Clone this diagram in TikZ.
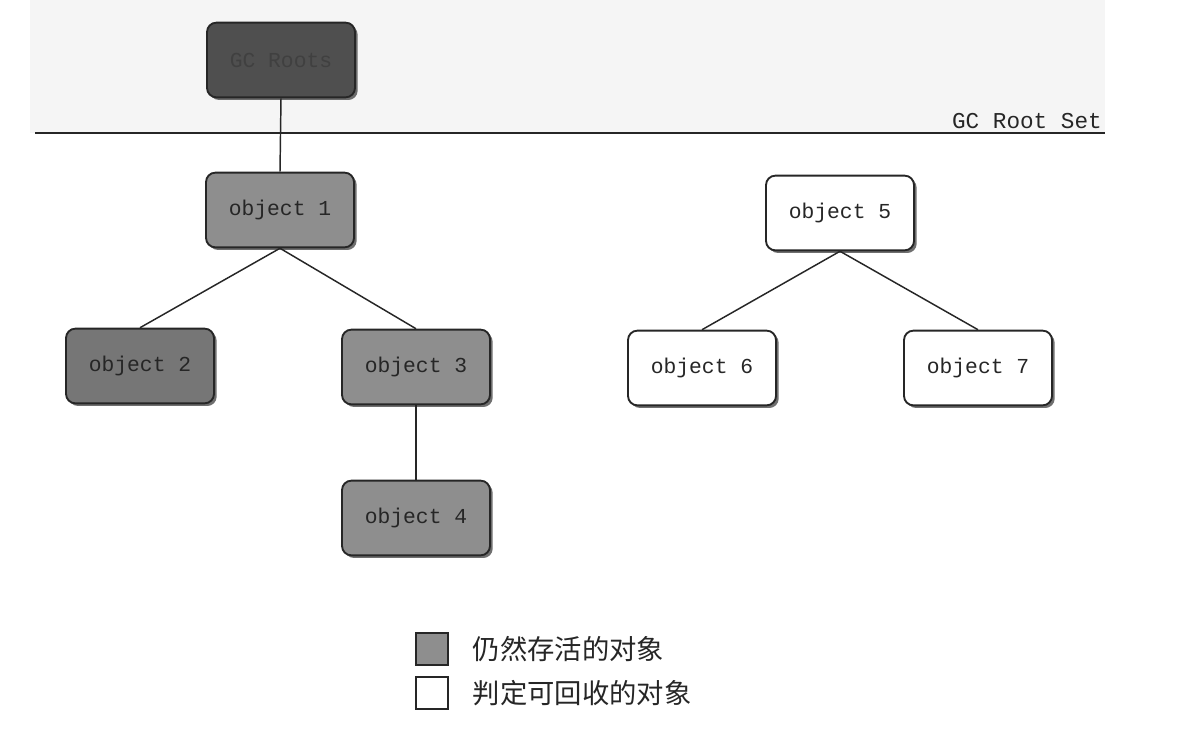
\documentclass[tikz,border=0pt]{standalone}
\usepackage{fontspec}
\setmonofont{Liberation Mono}
\newfontfamily\cjk{Noto Sans CJK SC}
\usetikzlibrary{shadows}
\definecolor{rootfill}{HTML}{4F4F4F}
\definecolor{livefill}{HTML}{8E8E8E}
\definecolor{livefilldark}{HTML}{767676}
\definecolor{topbg}{HTML}{F5F5F5}
\tikzset{
  objbox/.style={draw=black!85, line width=1.4pt, rounded corners=7pt,
    minimum width=111pt, minimum height=56pt, inner sep=0pt,
    font=\ttfamily\fontsize{16}{18}\selectfont, text=black!85,
    drop shadow={shadow xshift=2pt, shadow yshift=-2pt, opacity=0.7, fill=black!80}},
  live/.style={objbox, fill=livefill},
  dead/.style={objbox, fill=white},
  rootbox/.style={objbox, fill=rootfill, text=black!75},
  link/.style={draw=black!85, line width=1.1pt},
  legendbox/.style={draw=black!85, line width=1pt, minimum size=24pt, inner sep=0pt},
  legendtext/.style={anchor=west, font=\cjk\fontsize{20.5}{24}\selectfont, text=black!85}
}
\begin{document}
\begin{tikzpicture}[x=0.75pt,y=-0.75pt]
\useasboundingbox (0,0) rectangle (1200,737);
\fill[white] (0,0) rectangle (1200,737);
\fill[topbg] (30,0) rectangle (1105,133);
\coordinate (ls) at (35,133);
\coordinate (le) at (1105,133);
\draw[link, line width=1.2pt] (ls) -- (le);
\node[anchor=south east, inner sep=0pt, font=\ttfamily\fontsize{17}{19}\selectfont, text=black!85] (setlabel) at (1102,129) {GC Root Set};

\node[rootbox] (roots) at (281,60) {GC Roots};
\node[live] (o1) at (280,210) {object 1};
\node[live, fill=livefilldark] (o2) at (140,366) {object 2};
\node[live] (o3) at (416,367) {object 3};
\node[live] (o4) at (416,518) {object 4};
\node[dead] (o5) at (840,213) {object 5};
\node[dead] (o6) at (702,368) {object 6};
\node[dead] (o7) at (978,368) {object 7};

\draw[link] (roots.south) -- (o1.north);
\draw[link] (o1.south) -- (o2.north);
\draw[link] (o1.south) -- (o3.north);
\draw[link] (o3.south) -- (o4.north);
\draw[link] (o5.south) -- (o6.north);
\draw[link] (o5.south) -- (o7.north);

\node[legendbox, fill=livefill] (lg1) at (432,649) {};
\node[legendbox, fill=white] (lg2) at (432,693) {};
\node[legendtext] (lt1) at (468,649) {仍然存活的对象};
\node[legendtext] (lt2) at (468,693) {判定可回收的对象};
\end{tikzpicture}
\end{document}
